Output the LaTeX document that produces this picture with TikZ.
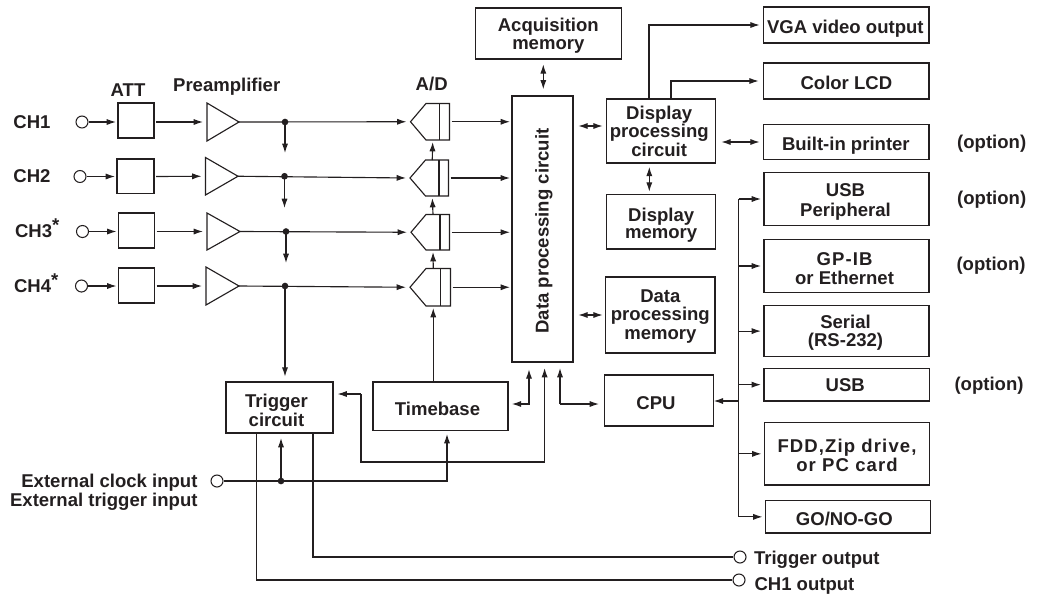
\documentclass[tikz,border=0pt]{standalone}
\usepackage{fontspec}
\usepackage{graphicx}
\setmainfont{Liberation Sans}
\usetikzlibrary{arrows.meta,calc}
\definecolor{ink}{HTML}{231F20}
\newcommand{\spaced}{\addfontfeatures{LetterSpace=6}}
\tikzset{
  every node/.style={text=ink},
  lbl/.style={font=\fontsize{13.9}{13.9}\selectfont\bfseries,inner sep=0pt,outer sep=0pt},
  boxed/.style={lbl,draw=ink,line width=0.9pt},
  port/.style={circle,draw=ink,line width=0.8pt,minimum size=9pt,inner sep=0pt,fill=white},
  wire/.style={draw=ink,line width=0.85pt},
  arr/.style={wire,-{Latex[length=7pt,width=4.6pt]},shorten >=1.5pt},
  darr/.style={wire,{Latex[length=7pt,width=4.6pt]}-{Latex[length=7pt,width=4.6pt]},shorten >=1pt,shorten <=1pt},
  junction/.style={circle,fill=ink,minimum size=5pt,inner sep=0pt}
}
% name, x1, y1, x2, y2
\newcommand{\bxe}[5]{\node[boxed,minimum width={(#4-#2)*0.75pt},minimum height={(#5-#3)*0.75pt}] (#1) at ({(#2+#4)/2},{(#3+#5)/2}) {};}
% name, x1, y1, x2, y2, dx, baseline of the first line, text
\newcommand{\bx}[8]{%
  \pgfmathsetlengthmacro\bxraise{(#7-(#3+#5)/2)*0.75pt}%
  \pgfmathsetlengthmacro\bxkern{2*(#6)*0.75pt}%
  \node[boxed,minimum width={(#4-#2)*0.75pt},minimum height={(#5-#3)*0.75pt}] (#1) at ({(#2+#4)/2},{(#3+#5)/2})
  {\makebox[0pt]{\hspace*{\bxkern}\raisebox{-\bxraise}[0pt][0pt]{\begin{tabular}[t]{@{}c@{}}#8\end{tabular}}}};}
% name, xleft, xright, ytop, ybottom
\newcommand{\ampl}[5]{\draw[wire,line join=miter] (#2,#4) -- (#3,{(#4+#5)/2}) coordinate (#1o) -- (#2,#5) -- cycle; \coordinate (#1i) at (#2,{(#4+#5)/2});}
% name, tip x, slope-end x, divider x, right x, ytop, ybottom
\newcommand{\adc}[7]{\draw[wire] (#4,#6) -- (#3,#6) -- (#2,{(#6+#7)/2}) coordinate (#1i) -- (#3,#7) -- (#5,#7) -- (#5,#6) -- cycle; \draw[wire] (#4,#6) -- (#4,#7); \coordinate (#1o) at (#5,{(#6+#7)/2}); \coordinate (#1t) at ({(#3+#4)/2},#6); \coordinate (#1b) at ({(#3+#4)/2},#7);}
\newcommand{\chstar}{\raisebox{4.5pt}{*}}
\begin{document}
\begin{tikzpicture}[x=0.75pt,y=-0.75pt]
\useasboundingbox (0,0) rectangle (1041,593);
% channel labels
\node[lbl,anchor=base] (tch1) at (32,128.3) {CH1};
\node[lbl,anchor=base] (tch2) at (32,182.7) {CH2};
\node[lbl,anchor=base west] (tch3) at (15,237.7) {CH3\chstar};
\node[lbl,anchor=base west] (tch4) at (14,292.3) {CH4\chstar};
\node[lbl,anchor=base] (tatt) at (128,96.7) {ATT};
\node[lbl,anchor=base] (tpre) at (226.7,91.7) {Preamplifier};
\node[lbl,anchor=base] (tad) at (431.7,90) {A/D};
% inputs
\node[port] (in1) at (82,122) {};
\node[port] (in2) at (80,176.5) {};
\node[port] (in3) at (82.5,231.5) {};
\node[port] (in4) at (81.5,286) {};
% attenuators
\bxe{att1}{118}{103}{154}{138}
\bxe{att2}{117}{159}{154}{193.5}
\bxe{att3}{118.5}{213}{154.5}{248}
\bxe{att4}{118.5}{268}{154.5}{303}
% amplifiers
\ampl{amp1}{207}{239}{103}{141}
\ampl{amp2}{205.5}{238}{157.5}{195}
\ampl{amp3}{207}{240}{213}{250}
\ampl{amp4}{206}{239}{267}{305}
% converters
\adc{ad1}{410.5}{426}{439.5}{449.5}{103.5}{140}
\adc{ad2}{410}{425.5}{439}{448.5}{160}{196}
\adc{ad3}{411}{426}{440}{449.5}{214.5}{250}
\adc{ad4}{410}{426}{440.5}{450.5}{268.5}{306}
% boxes
\bx{acq}{475.3}{8}{621.3}{59}{0}{31}{Acquisition\\memory}
\node[boxed,minimum width={61*0.75pt},minimum height={266*0.75pt}] (data) at (542.5,229)
  {\makebox[0pt]{\hspace*{2.2pt}\raisebox{-78.4pt}[0pt][0pt]{\rotatebox{90}{Data processing circuit}}}};
\bx{disp}{606.7}{99}{715.7}{163}{-2}{119}{Display\\processing\\circuit}
\bx{dmem}{606.7}{194.5}{715.7}{249}{0}{221}{Display\\[-0.6pt]memory}
\bx{pmem}{605.7}{277}{715}{353}{0}{302}{Data\\processing\\memory}
\bx{cpu}{604.3}{375}{713.7}{426}{-3}{409}{CPU}
\bx{trig}{226}{382}{333}{433}{-3}{407.7}{Trigger\\circuit}
\bx{tb}{373}{382}{508}{430.5}{-3}{415}{Timebase}
\bx{vga}{763.7}{7}{929}{43}{-1}{33}{VGA video output}
\bx{lcd}{763.7}{63}{929}{99}{0}{89.5}{Color LCD}
\bx{prn}{763.7}{124.5}{929}{159.5}{-0.5}{150}{Built-in printer}
\bx{usbp}{764}{172.5}{929}{225.5}{-1}{196}{USB\\[1pt]Peripheral}
\bx{gpib}{764}{239.5}{929}{292.5}{-2}{265.7}{{\spaced GP-IB}\\or Ethernet}
\bx{ser}{764}{305.5}{929}{356.7}{-1}{328}{Serial\\(RS-232)}
\bx{usb}{764}{368.3}{929.5}{401}{-1.5}{391.7}{USB}
\bx{fdd}{764.5}{422.7}{929.5}{485}{0}{452.3}{{\spaced FDD,Zip drive,}\\{\spaced or PC card}}
\bx{go}{765.5}{500.7}{930.5}{533}{-3.7}{525}{GO/NO-GO}
% option labels
\node[lbl,anchor=base] (o1) at (991.7,148) {(option)};
\node[lbl,anchor=base] (o2) at (991.7,204) {(option)};
\node[lbl,anchor=base] (o3) at (991,270.7) {(option)};
\node[lbl,anchor=base] (o4) at (989,390) {(option)};
% channel wires
\foreach \n/\jx/\tipy in {1/285/155,2/284.5/210,3/286/265}{
  \node[junction] (j\n) at (\jx,0 |- amp\n o) {};
  \draw[arr] (in\n) -- (att\n.west |- in\n);
  \draw[arr,shorten <=1.5pt] (att\n.east |- in\n) -- ($(amp\n i)+(-2,0)$);
  \draw[arr] (amp\n o) -- ($(ad\n i)+(-2,0)$);
  \draw[arr] (j\n.center) -- (\jx,\tipy);
  \draw[arr,shorten <=1.5pt] (ad\n o) -- (data.west |- ad\n o);
}
\node[junction] (j4) at (285,286) {};
\draw[arr] (in4) -- (att4.west |- in4);
\draw[arr,shorten <=1.5pt] (att4.east |- in4) -- ($(amp4i)+(-2,0)$);
\draw[arr] (amp4o) -- ($(ad4i)+(-2,0)$);
\draw[arr,shorten >=4pt] (j4.center) -- (j4.center |- trig.north);
\draw[arr,shorten <=1.5pt] (ad4o) -- (data.west |- ad4o);
% converter clock chain
\draw[arr] (ad2t) -- (ad1b);
\draw[arr] (ad3t) -- (ad2b);
\draw[arr] (ad4t) -- (ad3b);
\draw[arr] (tb.north -| ad4b) -- (ad4b);
% data circuit links
\draw[darr,shorten >=2pt] ($(acq.south)+(-5,4)$) -- ($(acq.south)+(-5,33)$);
\draw[darr] (577,126) -- (604,126);
\draw[darr] (577,315) -- (604,315);
\draw[darr] (649.3,165.5) -- (649.3,193);
\draw[darr] (720,142) -- (761,142);
% display outputs
\draw[arr] (649,99) |- ($(vga.west)+(-2,0)$);
\draw[arr] (671,99) |- ($(lcd.west)+(-3,0)$);
% bus
\coordinate (bus) at (738.7,518);
\draw[arr,shorten >=2.25pt] (bus |- usbp.west) -- (usbp.west);
\draw[wire] (bus |- usbp.west) -- (bus |- go.west);
\draw[arr,shorten >=2.25pt] (bus |- gpib.west) -- (gpib.west);
\draw[arr,shorten >=2.25pt] (bus |- ser.west) -- (ser.west);
\draw[arr,shorten >=2.25pt] (bus |- usb.west) -- (usb.west);
\draw[arr,shorten >=2.25pt] (bus |- fdd.west) -- (fdd.west);
\draw[arr,shorten >=2.25pt] (bus |- go.west) -- (go.west);
\draw[arr,shorten >=0pt] (bus |- 0,401) -- (cpu.east |- 0,401);
% CPU / timebase / trigger
\coordinate (dbus1) at (529,368);
\coordinate (dbus2) at (544.6,368);
\coordinate (dbus3) at (560,368);
\draw[arr,shorten >=4pt] (dbus3 |- 0,404) -- (cpu.west |- 0,404);
\draw[arr,shorten >=0pt] (dbus3 |- 0,404) -- (dbus3);
\draw[darr] (dbus1) |- (510.5,404);
\draw[arr,shorten >=0pt] (361,394) -- (337.5,394);
\draw[arr,shorten >=0pt] (361,394) |- (dbus2 |- 0,462) -- (dbus2);
% external input
\node[port] (ext) at (217,481) {};
\node[junction] (jx) at (281,481) {};
\draw[arr,shorten >=0pt] (ext) -| (447,434);
\draw[arr,shorten >=0pt] (jx.center) -- (281,438);
\node[lbl,anchor=base east] (t1) at (197.5,487.7) {External clock input};
\node[lbl,anchor=base east] (t2) at (197.5,506.7) {External trigger input};
% outputs
\node[port] (otrig) at (740,557) {};
\node[port] (och) at (739,580) {};
\node[lbl,anchor=base west] (t3) at (754,564) {Trigger output};
\node[lbl,anchor=base west] (t4) at (754.5,590) {CH1 output};
\draw[wire] (313,433) |- (otrig);
\draw[wire] (256.5,433) |- (och);
\end{tikzpicture}
\end{document}
